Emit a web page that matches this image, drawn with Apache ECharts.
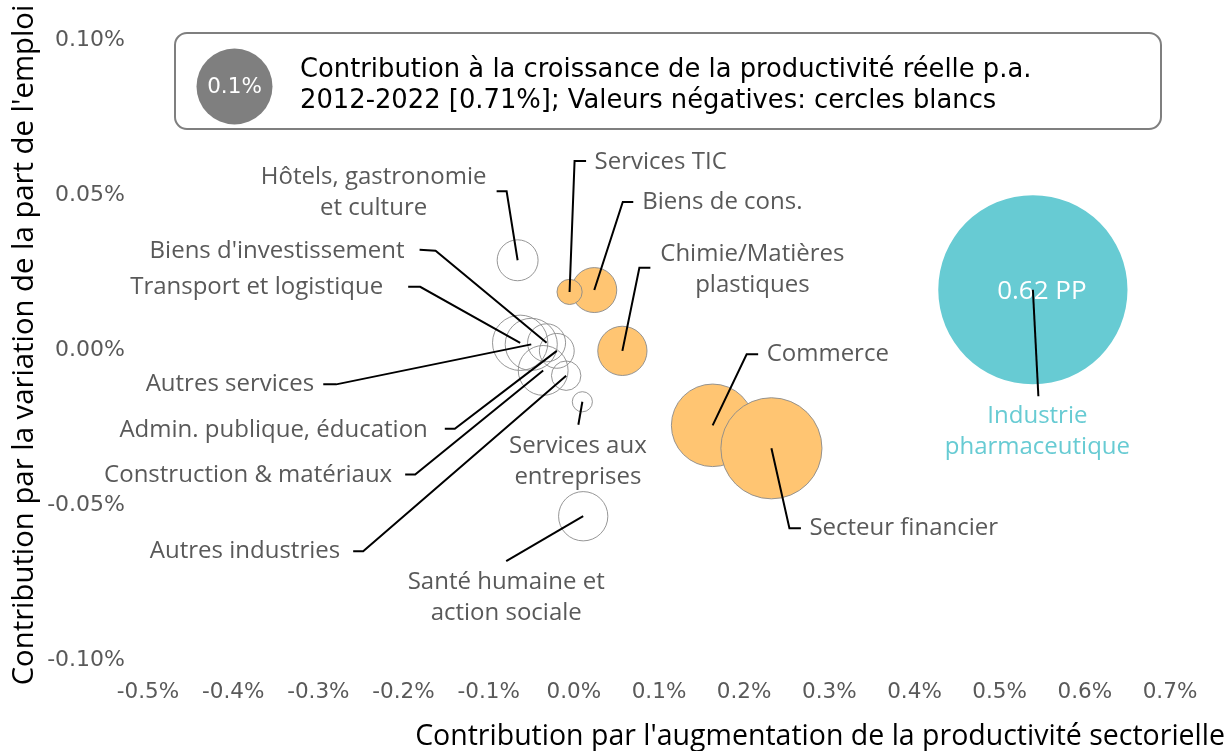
<!DOCTYPE html>
<html>
<head>
<meta charset="utf-8">
<script src="https://cdn.jsdelivr.net/npm/echarts@6/dist/echarts.min.js"></script>
<style>
html,body{margin:0;padding:0;background:#fff;}
#chart{width:1229px;height:751px;}
</style>
</head>
<body>
<div id="chart"></div>
<script>
// ---------- DATA ----------
const sectors = [
  "Hôtels, gastronomie\net culture",
  "Biens de cons.",
  "Services TIC",
  "Biens d'investissement",
  "Transport et logistique",
  "Chimie/Matières\nplastiques",
  "Autres services",
  "Admin. publique, éducation",
  "Construction & matériaux",
  "Autres industries",
  "Services aux\nentreprises",
  "Commerce",
  "Secteur financier",
  "Santé humaine et\naction sociale",
  "Industrie\npharmaceutique"
];
// x: contribution from sectoral productivity increase (%)
const productivityContrib = [-0.066, 0.024, -0.005, -0.032, -0.063, 0.057, -0.050, -0.020, -0.036, -0.009, 0.010, 0.163, 0.232, 0.011, 0.539];
// y: contribution from change in employment share (%)
const employmentContrib   = [0.029, 0.0194, 0.0188, 0.0024, 0.0024, -0.0002, 0.0019, -0.0002, -0.0065, -0.0082, -0.0166, -0.0242, -0.0316, -0.0535, 0.0195];
// bubble: contribution to real productivity growth p.a. 2012-2022 (%), negative = white circle
const growthContrib       = [-0.029, 0.035, 0.011, -0.025, -0.053, 0.042, -0.047, -0.021, -0.043, -0.015, -0.007, 0.118, 0.177, -0.042, 0.62];
const highlightSector = "Industrie\npharmaceutique";
const legendValue = 0.1;
const xTickLabels = {min: -0.5, max: 0.7, interval: 0.1};
const yTickLabels = {min: -0.1, max: 0.1, interval: 0.05};

// ---------- STYLE / LABEL LAYOUT (pixel offsets relative to bubble centre) ----------
const labelLayout = {
  "Hôtels, gastronomie\net culture": {pts: [[-11,-69],[-21,-69]], text: [-144,-68], align: 'center'},
  "Biens de cons.": {pts: [[28.5,-88],[39,-88]], text: [48,-88], align: 'left'},
  "Services TIC": {pts: [[5,-131],[16.5,-131]], text: [25,-130], align: 'left'},
  "Biens d'investissement": {pts: [[-111,-92],[-127,-93]], text: [-142,-92], align: 'right'},
  "Transport et logistique": {pts: [[-100,-56],[-112,-56]], text: [-137,-56], align: 'right'},
  "Chimie/Matières\nplastiques": {pts: [[17,-83],[28,-83]], text: [130,-81], align: 'center'},
  "Autres services": {pts: [[-195,40],[-208,40]], text: [-217,40], align: 'right'},
  "Admin. publique, éducation": {pts: [[-102,78],[-112,78]], text: [-129,79], align: 'right'},
  "Construction & matériaux": {pts: [[-128,104],[-138,104]], text: [-151,105], align: 'right'},
  "Autres industries": {pts: [[-203,175.5],[-213,175.5]], text: [-226,175], align: 'right'},
  "Services aux\nentreprises": {pts: [[-4,23]], text: [-4.5,60], align: 'center'},
  "Commerce": {pts: [[34,-71],[45.5,-71]], text: [54,-71], align: 'left'},
  "Secteur financier": {pts: [[18,80],[29.5,80]], text: [38,80], align: 'left'},
  "Santé humaine et\naction sociale": {pts: [[-77,45]], text: [-77,81], align: 'center'},
  "Industrie\npharmaceutique": {pts: [[5.5,106.5]], text: [4.5,142], align: 'center', color: '#67CBD3'}
};
const ORANGE = '#FFC572', TEAL = '#67CBD3', GREY = '#595959';
const LABEL_FONT = '24px "Open Sans"';
const sizeOf = v => 38 * Math.sqrt(Math.abs(v) / legendValue); // radius in px

const data = sectors.map((n, i) => [productivityContrib[i], employmentContrib[i], growthContrib[i], i]);

const chart = echarts.init(document.getElementById('chart'), null, {renderer: 'canvas'});

const fmt = (v, d) => { if (Math.abs(v) < 1e-9) v = 0; return v.toFixed(d) + '%'; };

const option = {
  animation: false,
  backgroundColor: '#fff',
  grid: {left: 148, right: 59, top: 40, bottom: 90.5, containLabel: false},
  xAxis: {
    type: 'value', min: xTickLabels.min, max: xTickLabels.max, interval: xTickLabels.interval,
    axisLine: {show: false}, axisTick: {show: false}, splitLine: {show: false},
    axisLabel: {color: GREY, fontFamily: 'DejaVu Sans', fontSize: 21.5, margin: 21, formatter: v => fmt(v, 1)}
  },
  yAxis: {
    type: 'value', min: yTickLabels.min, max: yTickLabels.max, interval: yTickLabels.interval,
    axisLine: {show: false}, axisTick: {show: false}, splitLine: {show: false},
    axisLabel: {color: GREY, fontFamily: 'DejaVu Sans', fontSize: 22, margin: 23, formatter: v => fmt(v, 2)}
  },
  graphic: [
    {type: 'rect', shape: {x: 175, y: 33, width: 986, height: 96, r: 12}, style: {fill: '#fff', stroke: '#7f7f7f', lineWidth: 2}, z: 1},
    {type: 'circle', shape: {cx: 234.5, cy: 86.5, r: sizeOf(legendValue)}, style: {fill: '#7f7f7f'}, z: 2},
    {type: 'text', x: 234.5, y: 87, style: {text: legendValue.toFixed(1) + '%', fill: '#fff', font: '21.5px "DejaVu Sans"', align: 'center', verticalAlign: 'middle'}, z: 3},
    {type: 'text', x: 300, y: 86, style: {text: 'Contribution à la croissance de la productivité réelle p.a.\n2012-2022 [0.71%]; Valeurs négatives: cercles blancs', fill: '#000', font: '25.8px "DejaVu Sans"', lineHeight: 31, align: 'left', verticalAlign: 'middle'}, z: 3},
    {type: 'text', x: 1225, y: 737, style: {text: "Contribution par l'augmentation de la productivité sectorielle", fill: '#000', font: '28.5px "Open Sans"', align: 'right', verticalAlign: 'middle'}, z: 3},
    {type: 'text', x: 25, y: 345, rotation: Math.PI / 2, style: {text: "Contribution par la variation de la part de l'emploi", fill: '#000', font: '29.3px "Open Sans"', align: 'center', verticalAlign: 'middle'}, z: 3}
  ],
  series: [
    {
      type: 'custom', name: 'bubbles', z: 2, clip: false,
      encode: {x: 0, y: 1},
      data: data,
      renderItem: (params, api) => {
        const c = api.coord([api.value(0), api.value(1)]);
        const v = api.value(2);
        const name = sectors[api.value(3)];
        const r = sizeOf(v);
        const children = [];
        if (name === highlightSector) {
          children.push({type: 'circle', shape: {cx: c[0], cy: c[1], r: r}, style: {fill: TEAL}});
          children.push({type: 'text', x: c[0] + 9, y: c[1] + 1.5, style: {text: v.toFixed(2) + ' PP', fill: '#fff', font: '500 26px "Open Sans"', align: 'center', verticalAlign: 'middle'}});
        } else if (v >= 0) {
          children.push({type: 'circle', shape: {cx: c[0], cy: c[1], r: r}, style: {fill: ORANGE, stroke: '#8a8a8a', lineWidth: 0.9}});
        } else {
          children.push({type: 'circle', shape: {cx: c[0], cy: c[1], r: r}, style: {fill: 'none', stroke: '#8a8a8a', lineWidth: 0.9}});
        }
        return {type: 'group', children: children};
      }
    },
    {
      type: 'custom', name: 'labels', z: 5, clip: false,
      encode: {x: 0, y: 1},
      data: data,
      renderItem: (params, api) => {
        const c = api.coord([api.value(0), api.value(1)]);
        const name = sectors[api.value(3)];
        const L = labelLayout[name];
        const pts = [c].concat(L.pts.map(p => [c[0] + p[0], c[1] + p[1]]));
        return {type: 'group', children: [
          {type: 'polyline', shape: {points: pts}, style: {stroke: '#000', lineWidth: 2, fill: null}},
          {type: 'text', x: c[0] + L.text[0], y: c[1] + L.text[1], style: {text: name, fill: L.color || GREY, font: LABEL_FONT, lineHeight: 31, align: L.align, verticalAlign: 'middle'}}
        ]};
      }
    }
  ]
};
chart.setOption(option);
</script>
</body>
</html>
